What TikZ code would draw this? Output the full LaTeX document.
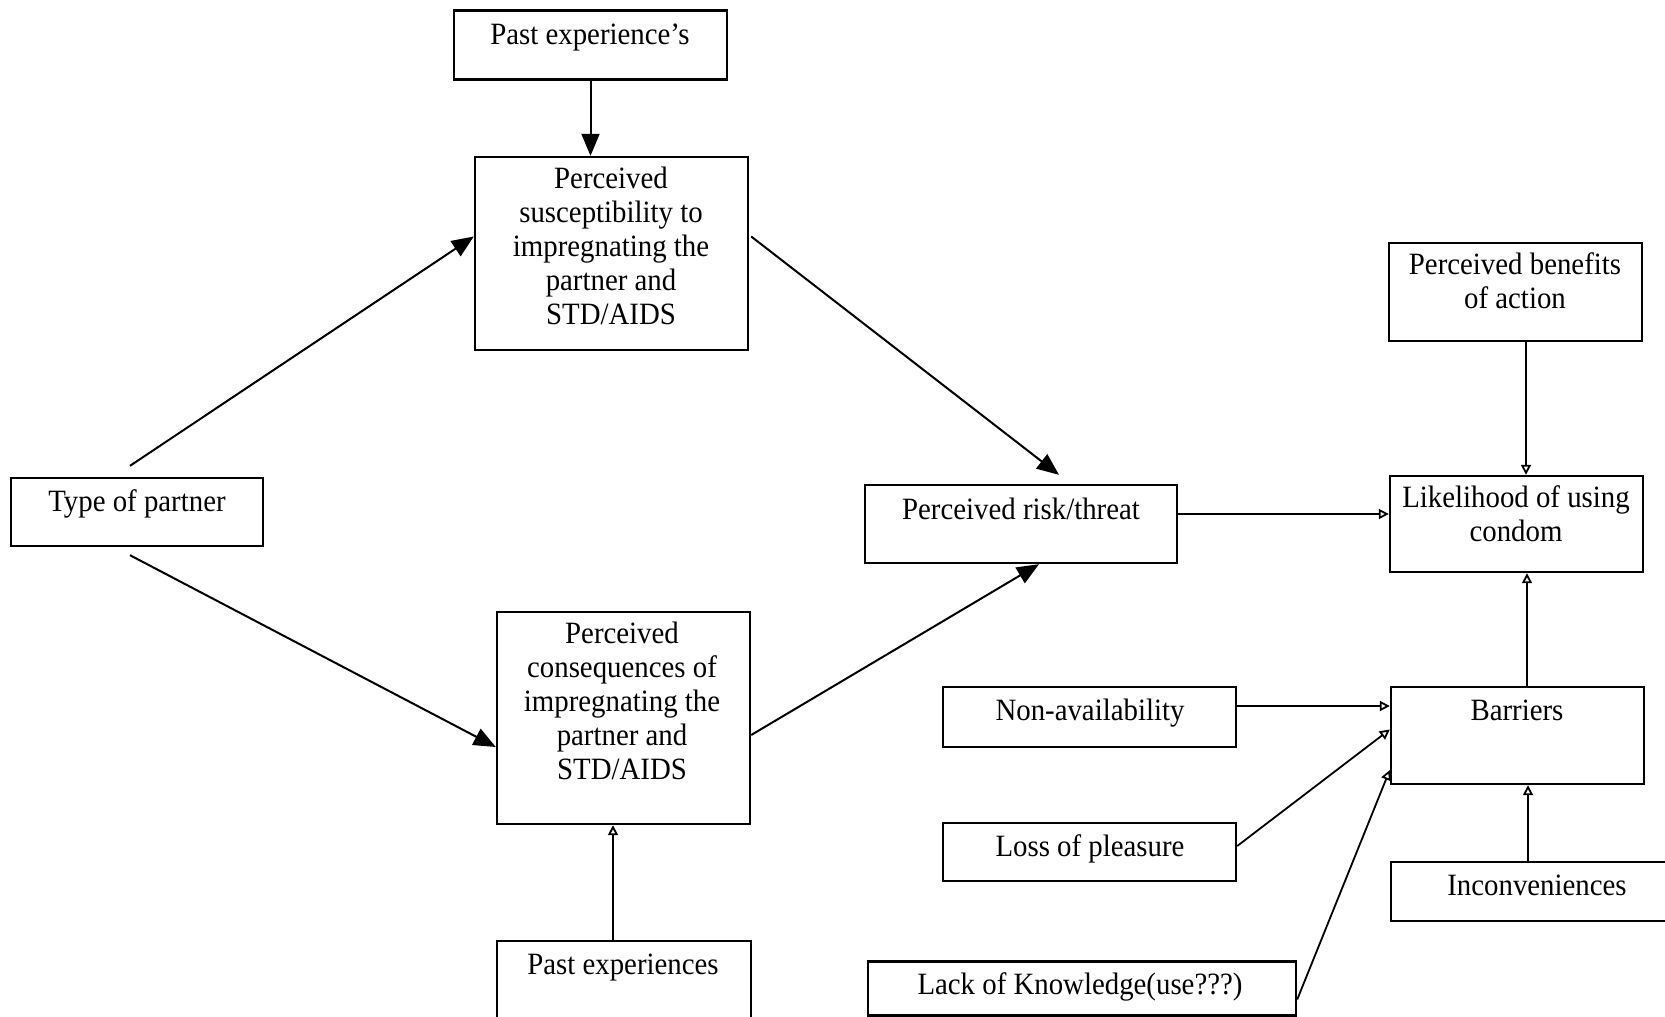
\documentclass[tikz,border=0pt]{standalone}
\usepackage{fontspec}
\setmainfont{Liberation Serif}[FakeStretch=0.93]
\usetikzlibrary{arrows.meta,calc}
\tikzset{
  box/.style={draw=black,line width=1.2pt,inner sep=0pt,rectangle},
  txt/.style={inner sep=0pt,anchor=base,font=\fontsize{15.5pt}{17pt}\selectfont},
  bigarrow/.style={line width=1pt,-{Triangle[length=11pt,width=9pt]}},
  smallarrow/.style={line width=0.9pt,-{Triangle[open,length=5pt,width=5pt]}}
}
\newcommand\tl[2]{\parbox[t]{#1}{\centering #2}}
\begin{document}
\begin{tikzpicture}[x=0.5pt,y=-0.5pt]
\clip (0,0) rectangle (1665,1017);
\fill[white] (0,0) rectangle (1665,1017);
% boxes
\node[box,minimum width=136.5pt,minimum height=34.5pt] (pe1) at (590.5,45) {};
\node[box,minimum width=136.5pt,minimum height=96.5pt] (susc) at (611.5,253.5) {};
\node[box,minimum width=126pt,minimum height=34pt] (type) at (137,512) {};
\node[box,minimum width=126.5pt,minimum height=106pt] (cons) at (623.5,718) {};
\node[box,minimum width=127pt,minimum height=79pt] (pe2) at (624,1020) {};
\node[box,minimum width=156pt,minimum height=39pt] (risk) at (1021,524) {};
\node[box,minimum width=126.5pt,minimum height=49pt] (ben) at (1515.5,292) {};
\node[box,minimum width=126.5pt,minimum height=48pt] (lik) at (1516.5,524) {};
\node[box,minimum width=126.5pt,minimum height=48.5pt] (bar) at (1517.5,735.5) {};
\node[box,minimum width=146.5pt,minimum height=30pt] (non) at (1089.5,717) {};
\node[box,minimum width=146.5pt,minimum height=29pt] (loss) at (1089.5,852) {};
\node[box,minimum width=154.5pt,minimum height=29.5pt] (incon) at (1545.5,891.5) {};
\node[box,minimum width=214pt,minimum height=27pt] (lack) at (1082,988.5) {};
% texts
\node[txt] (pe1t) at (590,44) {\tl{130pt}{Past experience’s}};
\node[txt] (susct) at (611,188) {\tl{130pt}{Perceived\\susceptibility to\\impregnating the\\partner and\\STD/AIDS}};
\node[txt] (typet) at (137,511) {\tl{120pt}{Type of partner}};
\node[txt] (const) at (622,643) {\tl{124pt}{Perceived\\consequences of\\impregnating the\\partner and\\STD/AIDS}};
\node[txt] (pe2t) at (623,974) {\tl{124pt}{Past experiences}};
\node[txt] (riskt) at (1021,519) {\tl{150pt}{Perceived risk/threat}};
\node[txt] (bent) at (1515,274) {\tl{126pt}{Perceived benefits\\of action}};
\node[txt] (likt) at (1516,507) {\tl{126pt}{Likelihood of using\\condom}};
\node[txt] (bart) at (1517,720) {\tl{120pt}{Barriers}};
\node[txt] (nont) at (1090,720) {\tl{140pt}{Non-availability}};
\node[txt] (losst) at (1090,856) {\tl{140pt}{Loss of pleasure}};
\node[txt] (incont) at (1537,895) {\tl{150pt}{Inconveniences}};
\node[txt] (lackt) at (1080,994) {\tl{210pt}{Lack of Knowledge(use???)}};
% connectors
\draw[bigarrow] (pe1.south) -- (pe1.south |- susc.north);
\draw[bigarrow] ($(type.north)+(-7,-11)$) -- ($(susc.west)+(0,-17)$);
\draw[bigarrow] ($(type.south)+(-7,8)$) -- ($(cons.west)+(0,29)$);
\draw[bigarrow] ($(susc.east)+(2,-17)$) -- ($(risk.north)+(38,-9)$);
\draw[bigarrow] ($(cons.east)+(0,17)$) -- ($(risk.south)+(18,0)$);
\draw[smallarrow] ($(pe2.north)+(-11,0)$) coordinate (a1) -- (a1 |- cons.south);
\draw[smallarrow] ($(risk.east)+(0,-10)$) coordinate (a2) -- (a2 -| lik.west);
\draw[smallarrow] ($(ben.south)+(10.5,0)$) coordinate (a3) -- (a3 |- lik.north);
\draw[smallarrow] ($(bar.north)+(9.5,0)$) coordinate (a4) -- (a4 |- lik.south);
\draw[smallarrow] ($(non.east)+(0,-11)$) coordinate (a5) -- (a5 -| bar.west);
\draw[smallarrow] ($(loss.east)+(0,-6)$) -- ($(bar.west)+(0,-6)$);
\draw[smallarrow] ($(lack.east)+(0,11)$) -- ($(bar.west)+(0,34.5)$);
\draw[smallarrow] ($(incon.north)+(-17.5,0)$) coordinate (a6) -- (a6 |- bar.south);
\end{tikzpicture}
\end{document}
